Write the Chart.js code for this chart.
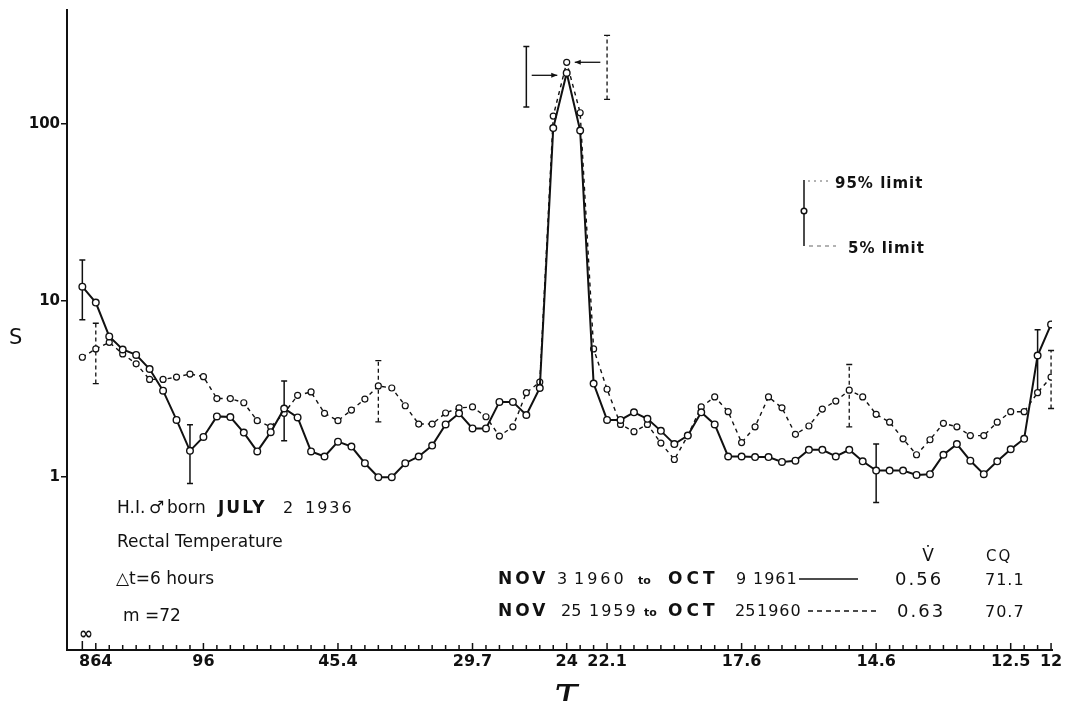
<!DOCTYPE html>
<html>
<head>
<meta charset="utf-8">
<title>Periodogram - rectal temperature</title>
<script src="https://cdn.jsdelivr.net/npm/chart.js@4.4.1/dist/chart.umd.min.js"></script>
<style>
    html, body { margin: 0; padding: 0; background: #fff; }
    canvas { display: block; }
</style>
</head>
<body>
<canvas id="chart" width="1068" height="701"></canvas>
<script>
// ============================================================================
// DATA
// ============================================================================

// Spectral estimate S for harmonic k = 0..72 (period = 864 / k hours, dt = 6 h)
// NOV 3 1960 to OCT 9 1961 (solid)
var solidS = [
    12.0, 9.75, 6.27, 5.29, 4.93, 4.10, 3.09, 2.11, 1.41, 1.69,
    2.21, 2.19, 1.79, 1.40, 1.80, 2.45, 2.18, 1.40, 1.31, 1.59,
    1.49, 1.20, 1.00, 1.00, 1.20, 1.31, 1.51, 1.99, 2.30, 1.89,
    1.89, 2.67, 2.67, 2.25, 3.20, 95, 195, 92, 3.39, 2.11,
    2.11, 2.33, 2.14, 1.83, 1.54, 1.72, 2.33, 1.99, 1.31, 1.31,
    1.30, 1.30, 1.22, 1.24, 1.43, 1.43, 1.31, 1.43, 1.23, 1.09,
    1.09, 1.09, 1.03, 1.04, 1.34, 1.54, 1.24, 1.04, 1.23, 1.44,
    1.65, 4.89, 7.33
];

// NOV 25 1959 to OCT 25 1960 (dashed)
var dashedS = [
    4.78, 5.33, 5.81, 4.99, 4.39, 3.58, 3.58, 3.69, 3.84, 3.71,
    2.79, 2.79, 2.64, 2.09, 1.93, 2.30, 2.91, 3.04, 2.30, 2.09,
    2.40, 2.77, 3.29, 3.20, 2.54, 2.00, 2.00, 2.31, 2.47, 2.50,
    2.20, 1.71, 1.93, 3.01, 3.46, 111, 224, 116, 5.33, 3.15,
    1.99, 1.81, 1.99, 1.56, 1.26, 1.72, 2.50, 2.85, 2.35, 1.57,
    1.93, 2.85, 2.47, 1.75, 1.95, 2.43, 2.70, 3.11, 2.85, 2.27,
    2.05, 1.65, 1.34, 1.63, 2.02, 1.93, 1.72, 1.72, 2.05, 2.35,
    2.35, 3.01, 3.69
];

// labelled harmonics on the tau axis
var periodTickK = [1, 9, 19, 29, 36, 39, 49, 59, 69, 72];
var periodTickLabels = ['864', '96', '45.4', '29.7', '24', '22.1', '17.6', '14.6', '12.5', '12'];

var sTicks = [1, 10, 100];

// confidence limits: [k, 5% limit, 95% limit]
var solidLimits = [[0, 7.8, 17.0], [8, 0.92, 1.98], [15, 1.61, 3.51], [59, 0.72, 1.54], [71, 3.07, 6.84], [33, 125, 275]];
var dashedLimits = [[1, 3.39, 7.45], [22, 2.06, 4.58], [57, 1.93, 4.35], [72, 2.45, 5.22], [39, 138, 318]];

// arrows from the peak limits to the peak: [from k, to k, S]
var solidArrow = [33.4, 35.3, 189];
var dashedArrow = [38.5, 36.6, 224];

// ============================================================================
// HELPERS
// ============================================================================

var INK = '#111';

function toPoints(values) {
    return values.map(function(s, k) { return { x: k, y: s }; });
}

function drawText(ctx, text, x, y, font, spacing, align) {
    ctx.font = font;
    ctx.letterSpacing = (spacing || 0) + 'px';
    ctx.textAlign = align || 'left';
    ctx.fillText(text, x, y);
    ctx.letterSpacing = '0px';
}

function drawLimit(ctx, xs, ys, item, dashed) {
    var px = xs.getPixelForValue(item[0]);
    var lo = ys.getPixelForValue(item[1]);
    var hi = ys.getPixelForValue(item[2]);
    ctx.setLineDash(dashed ? [4, 3] : []);
    ctx.beginPath();
    ctx.moveTo(px, lo);
    ctx.lineTo(px, hi);
    ctx.stroke();
    ctx.setLineDash([]);
    ctx.beginPath();
    ctx.moveTo(px - 3, lo); ctx.lineTo(px + 3, lo);
    ctx.moveTo(px - 3, hi); ctx.lineTo(px + 3, hi);
    ctx.stroke();
}

function drawArrow(ctx, xs, ys, arrow) {
    var x0 = xs.getPixelForValue(arrow[0]);
    var x1 = xs.getPixelForValue(arrow[1]);
    var y = ys.getPixelForValue(arrow[2]);
    var dir = x1 > x0 ? 1 : -1;
    ctx.beginPath();
    ctx.moveTo(x0, y);
    ctx.lineTo(x1, y);
    ctx.stroke();
    ctx.beginPath();
    ctx.moveTo(x1, y);
    ctx.lineTo(x1 - dir * 6, y - 2.5);
    ctx.lineTo(x1 - dir * 6, y + 2.5);
    ctx.closePath();
    ctx.fill();
}

// ============================================================================
// PLUGINS
// ============================================================================

// small upward tick marks at every harmonic
var harmonicTicks = {
    id: 'harmonicTicks',
    afterDraw: function(chart) {
        var xs = chart.scales.x, area = chart.chartArea, ctx = chart.ctx;
        ctx.save();
        ctx.strokeStyle = INK;
        ctx.lineWidth = 1.5;
        for (var k = 0; k < solidS.length; k++) {
            var px = xs.getPixelForValue(k);
            var len = k === 0 ? 9 : (periodTickK.indexOf(k) >= 0 ? 7 : 5);
            ctx.beginPath();
            ctx.moveTo(px, area.bottom);
            ctx.lineTo(px, area.bottom - len);
            ctx.stroke();
        }
        ctx.restore();
    }
};

// 5% / 95% limits and peak arrows
var limitBars = {
    id: 'limitBars',
    beforeDatasetsDraw: function(chart) {
        var xs = chart.scales.x, ys = chart.scales.y, ctx = chart.ctx;
        ctx.save();
        ctx.strokeStyle = INK;
        ctx.fillStyle = INK;
        ctx.lineWidth = 1.5;
        solidLimits.forEach(function(item) { drawLimit(ctx, xs, ys, item, false); });
        ctx.lineWidth = 1.3;
        dashedLimits.forEach(function(item) { drawLimit(ctx, xs, ys, item, true); });
        drawArrow(ctx, xs, ys, solidArrow);
        drawArrow(ctx, xs, ys, dashedArrow);
        ctx.restore();
    }
};

// captions, key and axis titles
var captions = {
    id: 'captions',
    afterDraw: function(chart) {
        var ctx = chart.ctx;
        var reg = '17px "DejaVu Sans"';
        var num = '16px "DejaVu Sans"';
        var bold = 'bold 17px "DejaVu Sans"';
        ctx.save();
        ctx.fillStyle = INK;
        ctx.textBaseline = 'alphabetic';

        // axis titles
        drawText(ctx, 'S', 9, 344, '21px "DejaVu Sans"');
        drawText(ctx, '\u03C4', 566, 708, 'italic 46px "DejaVu Serif"', 0, 'center');
        drawText(ctx, '\u221E', 86, 639, 'bold 17px "DejaVu Sans"', 0, 'center');

        // subject block
        drawText(ctx, 'H.I.', 117, 513, reg);
        drawText(ctx, '\u2642', 149, 513, reg);
        drawText(ctx, 'born', 167, 513, reg);
        drawText(ctx, 'JULY', 218, 513, bold, 2);
        drawText(ctx, '2', 283, 513, num);
        drawText(ctx, '1936', 305, 513, num, 2);
        drawText(ctx, 'Rectal Temperature', 117, 547, reg);
        drawText(ctx, '\u25B3t=6 hours', 116, 584, reg);
        drawText(ctx, 'm =72', 123, 621, reg);

        // period table
        drawText(ctx, 'V\u0307', 928, 561, '17px "DejaVu Sans"', 0, 'center');
        drawText(ctx, 'CQ', 986, 561, '15px "DejaVu Sans"', 2);

        drawText(ctx, 'NOV', 498, 584, bold, 3);
        drawText(ctx, '3', 557, 584, num);
        drawText(ctx, '1960', 574, 584, num, 3);
        drawText(ctx, 'to', 638, 584, 'bold 11px "DejaVu Sans"');
        drawText(ctx, 'OCT', 668, 584, bold, 4);
        drawText(ctx, '9', 736, 584, num);
        drawText(ctx, '1961', 753, 584, num, 1);
        drawText(ctx, '0.56', 895, 585, '18px "DejaVu Sans"', 2);
        drawText(ctx, '71.1', 985, 585, '16px "DejaVu Sans"', 1);

        drawText(ctx, 'NOV', 498, 616, bold, 3);
        drawText(ctx, '25', 561, 616, num);
        drawText(ctx, '1959', 589, 616, num, 2);
        drawText(ctx, 'to', 644, 616, 'bold 11px "DejaVu Sans"');
        drawText(ctx, 'OCT', 668, 616, bold, 4);
        drawText(ctx, '25', 735, 616, num);
        drawText(ctx, '1960', 757, 616, num, 1);
        drawText(ctx, '0.63', 897, 617, '18px "DejaVu Sans"', 2);
        drawText(ctx, '70.7', 985, 617, '16px "DejaVu Sans"', 1);

        // key lines after the date ranges
        ctx.strokeStyle = INK;
        ctx.lineWidth = 1.5;
        ctx.beginPath();
        ctx.moveTo(799, 579); ctx.lineTo(858, 579);
        ctx.stroke();
        ctx.setLineDash([5, 4]);
        ctx.beginPath();
        ctx.moveTo(808, 611); ctx.lineTo(876, 611);
        ctx.stroke();

        // limit key
        ctx.setLineDash([]);
        ctx.beginPath();
        ctx.moveTo(804, 180); ctx.lineTo(804, 246);
        ctx.stroke();
        ctx.beginPath();
        ctx.arc(804, 211, 2.8, 0, Math.PI * 2);
        ctx.fillStyle = '#fff';
        ctx.fill();
        ctx.stroke();
        ctx.lineWidth = 1;
        ctx.strokeStyle = '#666';
        ctx.setLineDash([2, 4]);
        ctx.beginPath();
        ctx.moveTo(808, 181); ctx.lineTo(832, 181);
        ctx.stroke();
        ctx.setLineDash([4, 4]);
        ctx.beginPath();
        ctx.moveTo(809, 246); ctx.lineTo(836, 246);
        ctx.stroke();
        ctx.setLineDash([]);
        ctx.fillStyle = INK;
        drawText(ctx, '95% limit', 835, 188, 'bold 15px "DejaVu Sans"', 1);
        drawText(ctx, '5% limit', 848, 253, 'bold 15px "DejaVu Sans"', 1);

        ctx.restore();
    }
};

// ============================================================================
// CHART
// ============================================================================

var canvas = document.getElementById('chart');

new Chart(canvas, {
    type: 'line',
    data: {
        datasets: [
            {
                label: 'NOV 3 1960 to OCT 9 1961',
                data: toPoints(solidS),
                borderColor: INK,
                borderWidth: 2,
                pointRadius: 3.3,
                pointBackgroundColor: '#fff',
                pointBorderColor: INK,
                pointBorderWidth: 1.4,
                tension: 0,
                order: 1
            },
            {
                label: 'NOV 25 1959 to OCT 25 1960',
                data: toPoints(dashedS),
                borderColor: INK,
                borderWidth: 1.4,
                borderDash: [4, 4],
                pointRadius: 3,
                pointBackgroundColor: '#fff',
                pointBorderColor: INK,
                pointBorderWidth: 1.2,
                tension: 0,
                order: 2
            }
        ]
    },
    options: {
        responsive: false,
        animation: false,
        layout: { padding: { top: 5, right: 16, left: 0, bottom: 0 } },
        plugins: {
            legend: { display: false },
            tooltip: { enabled: false }
        },
        scales: {
            x: {
                type: 'linear',
                min: -1.14,
                max: 72.07,
                grid: { display: false, drawTicks: false },
                border: { display: true, color: INK, width: 2 },
                afterBuildTicks: function(scale) {
                    scale.ticks = periodTickK.map(function(k) { return { value: k }; });
                },
                afterFit: function(scale) { scale.height = 51; },
                ticks: {
                    autoSkip: false,
                    maxRotation: 0,
                    padding: 2,
                    color: INK,
                    font: { family: 'DejaVu Sans', size: 16, weight: 'bold' },
                    callback: function(value) {
                        var i = periodTickK.indexOf(value);
                        return i >= 0 ? periodTickLabels[i] : '';
                    }
                }
            },
            y: {
                type: 'logarithmic',
                min: 0.105,
                max: 443,
                grid: {
                    display: true,
                    drawOnChartArea: false,
                    drawTicks: true,
                    tickLength: 6,
                    color: INK,
                    lineWidth: 1.5
                },
                border: { display: true, color: INK, width: 2 },
                afterBuildTicks: function(scale) {
                    scale.ticks = sTicks.map(function(v) { return { value: v }; });
                },
                afterFit: function(scale) { scale.width = 67; },
                ticks: {
                    padding: 1,
                    color: INK,
                    font: { family: 'DejaVu Sans', size: 15, weight: 'bold' },
                    callback: function(value) { return String(value); }
                }
            }
        }
    },
    plugins: [limitBars, harmonicTicks, captions]
});
</script>
</body>
</html>
